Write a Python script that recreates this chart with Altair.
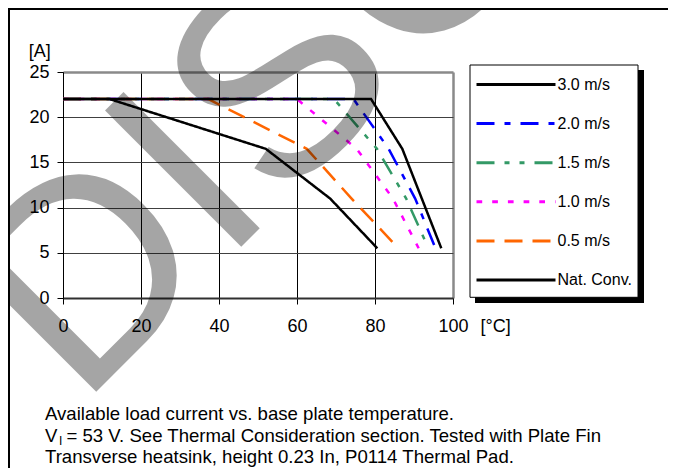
import altair as alt
import pandas as pd

# ---------------- data ----------------
series_names = ["3.0 m/s", "2.0 m/s", "1.5 m/s", "1.0 m/s", "0.5 m/s", "Nat. Conv."]
series_colors = ["#000000", "#0000FF", "#339966", "#FF00FF", "#FF6600", "#000000"]
series_dashes = [[1, 0], [18, 10, 6, 10], [18, 10, 5, 10, 5, 10], [5.7, 10], [18, 10], [1, 0]]

temp_30 = [0, 79, 87, 97]
curr_30 = [22, 22, 16.5, 5.5]
temp_20 = [0, 74.5, 83.5, 90.3, 95.5]
curr_20 = [22, 22, 16.5, 11, 5.5]
temp_15 = [0, 69.5, 80.5, 88, 93.7]
curr_15 = [22, 22, 16.5, 11, 5.5]
temp_10 = [0, 60, 75.3, 84.6, 91.2]
curr_10 = [22, 22, 16.5, 11, 5.5]
temp_05 = [0, 37.3, 62.5, 74, 86]
curr_05 = [22, 22, 16.5, 11, 5.5]
temp_nc = [0, 12, 52, 68.5, 80.6]
curr_nc = [22, 22, 16.5, 11, 5.5]

x_ticks = [0, 20, 40, 60, 80, 100]
y_ticks = [0, 5, 10, 15, 20, 25]

x_title = "[°C]"
y_title = "[A]"
caption_1 = "Available load current vs. base plate temperature."
caption_2a = "V"
caption_2b = "I"
caption_2c = " = 53 V. See Thermal Consideration section. Tested with Plate Fin"
caption_3 = "Transverse heatsink, height 0.23 In, P0114 Thermal Pad."
watermark = "DISCONTINUED"

FONT = "Liberation Sans"

rows = []
for name, ts, cs in zip(series_names,
                        [temp_30, temp_20, temp_15, temp_10, temp_05, temp_nc],
                        [curr_30, curr_20, curr_15, curr_10, curr_05, curr_nc]):
    for k, (t, c) in enumerate(zip(ts, cs)):
        rows.append({"series": name, "T": t, "I": c, "idx": k})
df = pd.DataFrame(rows)
one = pd.DataFrame({"k": [0]})

# ---------------- axes / legend ----------------
x_axis = alt.Axis(
    values=x_ticks, title=x_title, labelFontSize=18, labelColor="black",
    labelFont=FONT, labelPadding=13, labelFlush=False, labelOverlap=False,
    tickColor="black", tickSize=6, tickWidth=1,
    domainColor="#303030", domainWidth=2,
    grid=True,
    gridColor={"condition": {"test": "datum.value === 100", "value": "#8a8a8a"}, "value": "#000000"},
    gridWidth={"condition": {"test": "datum.value === 100", "value": 2.5}, "value": 1},
    titleFont=FONT, titleFontSize=18, titleFontWeight="normal", titleColor="black",
    titleAngle=0, titleAlign="left", titleBaseline="alphabetic",
    titleX=417, titleY=33.4,
)
y_axis = alt.Axis(
    values=y_ticks, title=y_title, labelFontSize=18, labelColor="black",
    labelFont=FONT, labelPadding=8, labelFlush=False, labelOverlap=False,
    tickColor="black", tickSize=6, tickWidth=1,
    domainColor="black", domainWidth=1,
    grid=True,
    gridColor={"condition": {"test": "datum.value === 25", "value": "#8a8a8a"}, "value": "#404040"},
    gridWidth={"condition": {"test": "datum.value === 25", "value": 2.5}, "value": 1.2},
    titleFont=FONT, titleFontSize=18, titleFontWeight="normal", titleColor="black",
    titleAngle=0, titleAlign="left", titleBaseline="alphabetic",
    titleX=-34.7, titleY=-15.5,
)
legend = alt.Legend(
    title=None, orient="none", legendX=413, legendY=1, padding=0,
    symbolType="M-3.95,0H3.95", symbolSize=400, symbolStrokeWidth=3,
    symbolOffset=28.5, labelOffset=30, labelFontSize=16, labelFont=FONT,
    labelColor="black", rowPadding=19.1, direction="vertical",
)

enc = dict(
    x=alt.X("T:Q", scale=alt.Scale(domain=[0, 100], nice=False), axis=x_axis),
    y=alt.Y("I:Q", scale=alt.Scale(domain=[0, 25], nice=False), axis=y_axis),
    color=alt.Color("series:N", scale=alt.Scale(domain=series_names, range=series_colors), legend=legend),
    strokeDash=alt.StrokeDash("series:N", scale=alt.Scale(domain=series_names, range=series_dashes), legend=legend),
    order=alt.Order("idx:Q"),
)

colored = alt.Chart(df).transform_filter(
    alt.FieldOneOfPredicate(field="series", oneOf=series_names[1:5])
).mark_line(strokeWidth=2.5, strokeCap="butt").encode(**enc)

black = alt.Chart(df).transform_filter(
    alt.FieldOneOfPredicate(field="series", oneOf=[series_names[0], series_names[5]])
).mark_line(strokeWidth=2.5, strokeCap="butt").encode(**enc)

# legend frame with drop shadow (decoration)
shadow = alt.Chart(one).mark_rect(color="black").encode(
    x=alt.value(412), x2=alt.value(581), y=alt.value(-2), y2=alt.value(231))
box = alt.Chart(one).mark_rect(fill="white", stroke="black", strokeWidth=1).encode(
    x=alt.value(407), x2=alt.value(575), y=alt.value(-7), y2=alt.value(225.3))

# page frame
frame_top = alt.Chart(one).mark_rule(color="black", strokeWidth=2).encode(
    x=alt.value(-55), x2=alt.value(605), y=alt.value(-63))
frame_left = alt.Chart(one).mark_rule(color="black", strokeWidth=2).encode(
    x=alt.value(-54), y=alt.value(-64), y2=alt.value(400))

def txt(s, x, y, size=18.6):
    return alt.Chart(one).mark_text(
        text=s, font=FONT, fontSize=size, align="left", baseline="alphabetic", color="black"
    ).encode(x=alt.value(x), y=alt.value(y))

cap1 = txt(caption_1, -18, 348)
cap2a = txt(caption_2a, -18, 369.7)
cap2b = txt(caption_2b, -4, 372.5, size=12)
cap2c = txt(caption_2c, 3.5, 369.7)
cap3 = txt(caption_3, -18, 391.3)

wm = alt.Chart(one).mark_text(
    text=watermark, font=FONT, fontSize=280, angle=315, align="left",
    baseline="alphabetic", color="black", opacity=0.35
).encode(x=alt.value(17), y=alt.value(336))

chart = alt.layer(
    shadow, box, colored, black, wm, cap1, cap2a, cap2b, cap2c, cap3, frame_top, frame_left
).properties(
    width=390, height=226,
    autosize=alt.AutoSizeParams(type="none"),
    padding={"left": 55, "top": 64, "right": 215, "bottom": 170},
    background="white",
).configure_view(strokeWidth=0).configure(font=FONT)

chart.save("out.html", embed_options={"renderer": "svg", "actions": False})
